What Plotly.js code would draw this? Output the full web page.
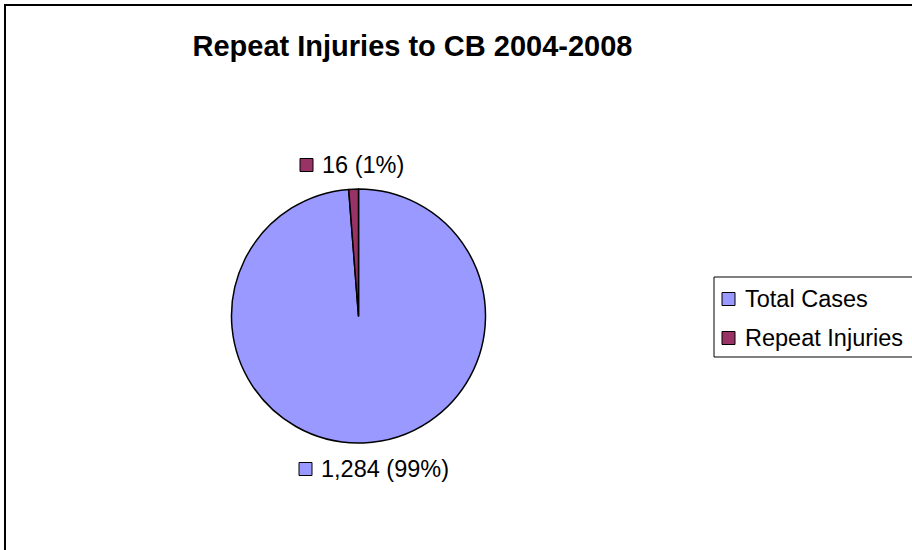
<!DOCTYPE html>
<html>
<head>
<meta charset="utf-8">
<script src="https://cdn.plot.ly/plotly-3.0.1.min.js"></script>
<style>
  html, body { margin: 0; padding: 0; background: #ffffff; }
  #chart { width: 912px; height: 550px; }
</style>
</head>
<body>
<div id="chart"></div>
<script>
// ---- data ----
var chartTitle = "Repeat Injuries to CB 2004-2008";
var categories = ["Total Cases", "Repeat Injuries"];
var values = [1284, 16];
var colors = ["#9999FF", "#993366"];

// ---- helpers ----
var W = 912, H = 550;
function px(x) { return x / W; }
function py(y) { return 1 - y / H; }
var total = values.reduce(function (a, b) { return a + b; }, 0);
function labelText(i) {
  return values[i].toLocaleString("en-US") + " (" + Math.round(values[i] / total * 100) + "%)";
}
var FONT = "Liberation Sans, Arial, sans-serif";
var TXT = 23.5;

// pie geometry (pixels)
var cx = 358.5, cy = 316, r = 127;

var trace = {
  type: "pie",
  labels: categories,
  values: values,
  sort: false,
  direction: "clockwise",
  rotation: 0,
  textinfo: "none",
  hoverinfo: "label+value+percent",
  marker: { colors: colors, line: { color: "#000000", width: 1.5 } },
  domain: { x: [px(cx - r), px(cx + r)], y: [py(cy + r), py(cy - r)] },
  showlegend: false
};

var shapes = [];
var annotations = [];

// outer chart border (extends past right/bottom edges)
shapes.push({
  type: "rect", xref: "paper", yref: "paper",
  x0: px(5), x1: 1.05, y0: -0.05, y1: py(5),
  line: { color: "#000000", width: 2 }, fillcolor: "rgba(0,0,0,0)", layer: "above"
});

// data labels: [square left x, center y, text left x] for each category
var labelPos = [
  { sx: 299, sy: 469, tx: 319 },
  { sx: 300, sy: 165, tx: 320 }
];
for (var i = 0; i < categories.length; i++) {
  var p = labelPos[i];
  shapes.push({
    type: "rect", xref: "paper", yref: "paper",
    x0: px(p.sx), x1: px(p.sx + 13), y0: py(p.sy + 6.5), y1: py(p.sy - 6.5),
    line: { color: "#000000", width: 1 }, fillcolor: colors[i]
  });
  annotations.push({
    xref: "paper", yref: "paper", x: px(p.tx), y: py(p.sy),
    xanchor: "left", yanchor: "middle", showarrow: false,
    text: labelText(i), font: { family: FONT, size: TXT, color: "#000000" }
  });
}

// legend box
shapes.push({
  type: "rect", xref: "paper", yref: "paper",
  x0: px(714), x1: 1.05, y0: py(357), y1: py(277),
  line: { color: "#000000", width: 1 }, fillcolor: "#ffffff"
});
var legendY = [299, 338];
for (var j = 0; j < categories.length; j++) {
  shapes.push({
    type: "rect", xref: "paper", yref: "paper",
    x0: px(722), x1: px(735), y0: py(legendY[j] + 6.5), y1: py(legendY[j] - 6.5),
    line: { color: "#000000", width: 1 }, fillcolor: colors[j]
  });
  annotations.push({
    xref: "paper", yref: "paper", x: px(743), y: py(legendY[j]),
    xanchor: "left", yanchor: "middle", showarrow: false,
    text: categories[j], font: { family: FONT, size: TXT, color: "#000000" }
  });
}

var layout = {
  width: W, height: H,
  margin: { l: 0, r: 0, t: 0, b: 0 },
  paper_bgcolor: "#ffffff",
  plot_bgcolor: "#ffffff",
  showlegend: false,
  title: {
    text: "<b>" + chartTitle + "</b>",
    font: { family: FONT, size: 29, color: "#000000" },
    x: px(412.5), xanchor: "center", xref: "container",
    y: py(46), yanchor: "middle", yref: "container"
  },
  shapes: shapes,
  annotations: annotations
};

Plotly.newPlot("chart", [trace], layout, { displayModeBar: false, staticPlot: true });
</script>
</body>
</html>
